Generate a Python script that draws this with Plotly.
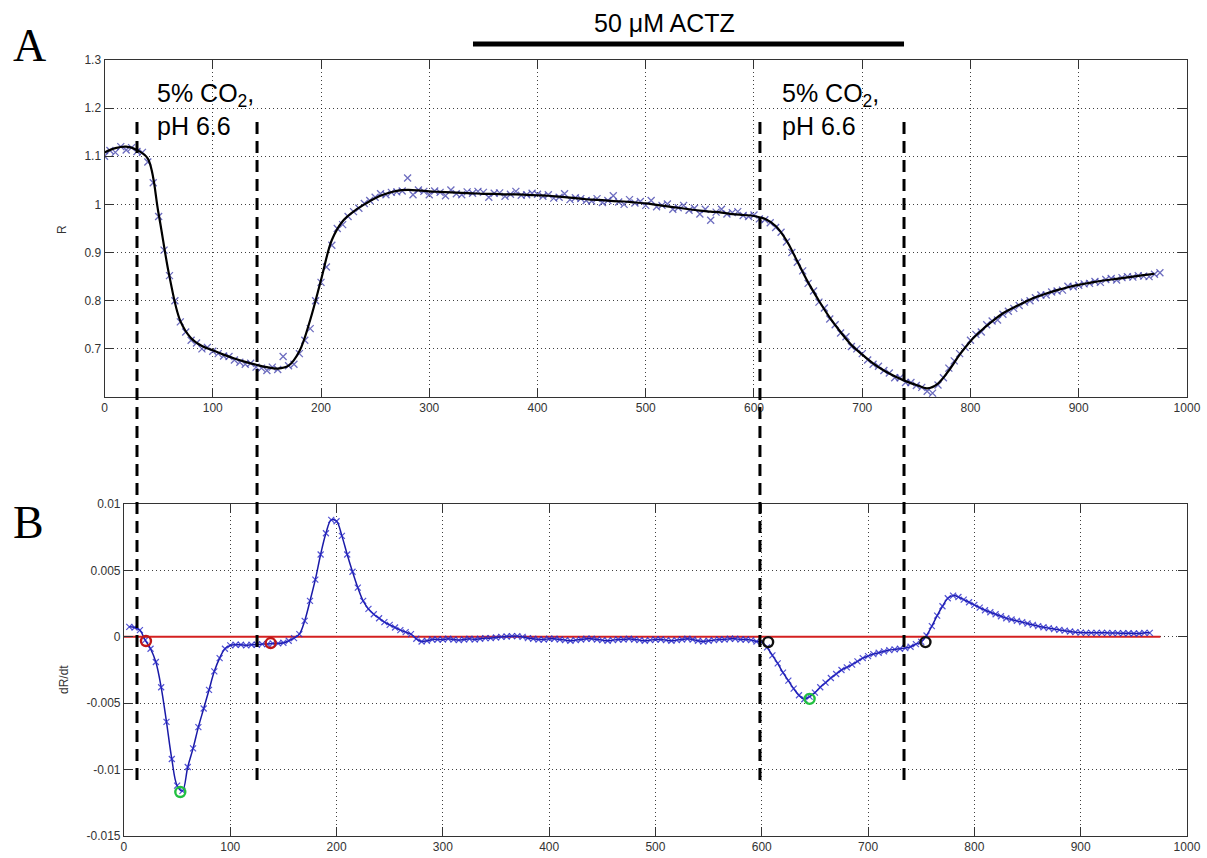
import plotly.graph_objects as go

# ---------------- data ----------------
# Panel A: fitted (smooth) ratio, every 10 s
fit_t = list(range(0, 980, 10))
fit_R = [1.108, 1.117, 1.120, 1.113, 1.095, 0.980, 0.850, 0.758, 0.722, 0.706,
         0.697, 0.688, 0.680, 0.673, 0.667, 0.662, 0.659, 0.665, 0.695, 0.760,
         0.843, 0.926, 0.965, 0.985, 1.000, 1.013, 1.022, 1.028, 1.030, 1.029,
         1.027, 1.026, 1.025, 1.024, 1.023, 1.022, 1.022, 1.021, 1.021, 1.020,
         1.019, 1.018, 1.016, 1.014, 1.012, 1.010, 1.009, 1.007, 1.006, 1.004,
         1.002, 0.999, 0.996, 0.993, 0.990, 0.987, 0.985, 0.983, 0.980, 0.978,
         0.976, 0.970, 0.955, 0.925, 0.882, 0.838, 0.800, 0.765, 0.735, 0.708,
         0.688, 0.670, 0.655, 0.643, 0.633, 0.625, 0.618, 0.628, 0.655, 0.688,
         0.716, 0.738, 0.757, 0.774, 0.786, 0.797, 0.807, 0.815, 0.822, 0.828,
         0.833, 0.837, 0.841, 0.844, 0.847, 0.850, 0.853, 0.856]

# Panel A: measured ratio, every 5 s
meas_t = list(range(0, 980, 5))
meas_R = [1.100, 1.112, 1.108, 1.120, 1.113, 1.118, 1.110, 1.108, 1.088, 1.045,
          0.975, 0.905, 0.852, 0.800, 0.756, 0.735, 0.718, 0.712, 0.700, 0.703,
          0.695, 0.690, 0.685, 0.684, 0.677, 0.672, 0.668, 0.670, 0.662, 0.660,
          0.655, 0.662, 0.657, 0.684, 0.665, 0.668, 0.690, 0.718, 0.742, 0.800,
          0.838, 0.870, 0.915, 0.950, 0.958, 0.975, 0.985, 0.992, 1.002, 1.008,
          1.015, 1.022, 1.020, 1.025, 1.026, 1.028, 1.055, 1.020, 1.030, 1.027,
          1.020, 1.028, 1.025, 1.018, 1.030, 1.022, 1.020, 1.026, 1.023, 1.027,
          1.025, 1.015, 1.023, 1.024, 1.017, 1.021, 1.027, 1.019, 1.020, 1.023,
          1.021, 1.017, 1.020, 1.013, 1.015, 1.022, 1.010, 1.014, 1.012, 1.008,
          1.007, 1.012, 1.004, 1.008, 1.018, 1.005, 1.000, 1.010, 1.003, 1.006,
          0.998, 1.008, 0.995, 0.998, 1.001, 0.990, 0.993, 0.998, 0.988, 0.992,
          0.980, 0.990, 0.967, 0.984, 0.990, 0.980, 0.983, 0.985, 0.977, 0.975,
          0.978, 0.970, 0.968, 0.962, 0.952, 0.942, 0.922, 0.900, 0.880, 0.862,
          0.836, 0.820, 0.797, 0.785, 0.762, 0.750, 0.733, 0.725, 0.705, 0.700,
          0.690, 0.677, 0.668, 0.664, 0.655, 0.650, 0.640, 0.640, 0.630, 0.630,
          0.624, 0.620, 0.612, 0.608, 0.625, 0.640, 0.660, 0.675, 0.690, 0.703,
          0.718, 0.730, 0.735, 0.750, 0.758, 0.760, 0.772, 0.778, 0.784, 0.790,
          0.797, 0.800, 0.806, 0.812, 0.812, 0.818, 0.820, 0.822, 0.830, 0.829,
          0.832, 0.835, 0.836, 0.840, 0.838, 0.844, 0.846, 0.843, 0.848, 0.850,
          0.849, 0.852, 0.851, 0.850, 0.855, 0.858]

# Panel B: derivative dR/dt (units of 1e-3 per s), every 5 s
deriv_t = list(range(5, 975, 5))
deriv_v_milli = [
    0.75, 0.70, 0.50, -0.25, -0.90, -1.90, -3.80, -6.40, -9.20, -11.20,
    -11.60, -9.80, -8.40, -6.80, -5.40, -4.00, -2.60, -1.60, -0.90, -0.65,
    -0.60, -0.60, -0.65, -0.60, -0.60, -0.55, -0.55, -0.50, -0.50, -0.45,
    -0.30, -0.10, 0.20, 1.20, 2.70, 4.30, 6.20, 7.80, 8.80, 8.70,
    7.60, 6.20, 4.90, 3.70, 2.70, 2.10, 1.70, 1.40, 1.10, 0.90,
    0.70, 0.50, 0.35, 0.20, -0.15, -0.35, -0.30, -0.20, -0.20, -0.20,
    -0.15, -0.20, -0.25, -0.20, -0.15, -0.20, -0.15, -0.10, -0.10, -0.05,
    0.00, 0.02, 0.05, 0.05, 0.00, -0.10, -0.15, -0.20, -0.20, -0.15,
    -0.15, -0.20, -0.25, -0.30, -0.25, -0.20, -0.15, -0.15, -0.20, -0.25,
    -0.30, -0.25, -0.20, -0.20, -0.15, -0.20, -0.25, -0.30, -0.25, -0.20,
    -0.20, -0.25, -0.30, -0.25, -0.20, -0.15, -0.20, -0.30, -0.35, -0.30,
    -0.25, -0.20, -0.20, -0.15, -0.15, -0.20, -0.20, -0.25, -0.35, -0.40,
    -0.80, -1.40, -2.00, -2.70, -3.30, -3.90, -4.40, -4.70, -4.50, -4.20,
    -3.80, -3.45, -3.10, -2.80, -2.50, -2.30, -2.10, -1.85, -1.60, -1.45,
    -1.30, -1.20, -1.10, -1.00, -0.95, -0.90, -0.85, -0.75, -0.55, -0.38,
    0.10, 0.80, 1.60, 2.30, 2.90, 3.10, 3.00, 2.80, 2.60, 2.40,
    2.20, 2.00, 1.85, 1.70, 1.55, 1.40, 1.30, 1.20, 1.10, 1.00,
    0.90, 0.80, 0.72, 0.65, 0.58, 0.52, 0.46, 0.40, 0.35, 0.32,
    0.30, 0.30, 0.30, 0.30, 0.30, 0.28, 0.28, 0.27, 0.27, 0.25,
    0.25, 0.30, 0.30]
deriv_v = [v / 1000.0 for v in deriv_v_milli]

# Panel B: marked points
red_t = [20.7, 138]
red_v = [-0.00032, -0.00047]
green_t = [53, 645]
green_v = [-0.01169, -0.00467]
black_t = [606, 754]
black_v = [-0.00040, -0.00040]
zero_t = [0, 975]
zero_v = [0, 0]

# event times (panel A time axis)
event_times = [30.0, 140.9, 605.5, 738.6]
actz_span = [340.4, 738.6]

# ticks
topx_ticks = list(range(0, 1001, 100))
topy_ticks = [0.7, 0.8, 0.9, 1.0, 1.1, 1.2, 1.3]
topy_labels = ["0.7", "0.8", "0.9", "1", "1.1", "1.2", "1.3"]
boty_ticks = [-0.015, -0.01, -0.005, 0, 0.005, 0.01]
boty_labels = ["-0.015", "-0.01", "-0.005", "0", "0.005", "0.01"]

# ---------------- figure ----------------
fig = go.Figure()

fig.add_trace(go.Scatter(x=meas_t, y=meas_R, mode="markers", xaxis="x", yaxis="y",
                         marker=dict(symbol="x-thin", size=7,
                                     line=dict(width=1.3, color="rgba(60,60,170,0.75)")),
                         showlegend=False))
fig.add_trace(go.Scatter(x=fit_t, y=fit_R, mode="lines", xaxis="x", yaxis="y",
                         line=dict(color="black", width=2.2, shape="spline"),
                         showlegend=False))

fig.add_trace(go.Scatter(x=zero_t, y=zero_v, mode="lines", xaxis="x2", yaxis="y2",
                         line=dict(color="#d42020", width=2), showlegend=False))
fig.add_trace(go.Scatter(x=deriv_t, y=deriv_v, mode="lines+markers", xaxis="x2", yaxis="y2",
                         line=dict(color="#1a1aa8", width=1.5, shape="spline"),
                         marker=dict(symbol="x-thin", size=6,
                                     line=dict(width=1.2, color="rgba(40,40,200,0.8)")),
                         showlegend=False))
for tt, vv, col in [(red_t, red_v, "#c01818"), (green_t, green_v, "#22c040"),
                    (black_t, black_v, "#101010")]:
    fig.add_trace(go.Scatter(x=tt, y=vv, mode="markers", xaxis="x2", yaxis="y2",
                             marker=dict(symbol="circle-open", size=10, color=col,
                                         line=dict(width=2.4, color=col)),
                             showlegend=False))

font_tick = dict(family="Liberation Sans, Arial, sans-serif", size=12, color="#333")
axis_common = dict(showline=True, linecolor="#333", linewidth=1, mirror="ticks",
                   ticks="inside", ticklen=9, tickcolor="#333", tickfont=font_tick,
                   showgrid=True, gridcolor="rgba(0,0,0,0.75)", griddash="1px,3px",
                   gridwidth=1, zeroline=False, automargin=False)

fig.update_layout(
    template="none",
    width=1207, height=858, autosize=False,
    margin=dict(l=0, r=0, t=0, b=0, pad=0),
    paper_bgcolor="white", plot_bgcolor="white",
    xaxis=dict(domain=[0.0866, 0.9834], range=[0, 1000], tickvals=topx_ticks,
               anchor="y", **axis_common),
    yaxis=dict(domain=[0.5373, 0.9301], range=[0.6, 1.3], tickvals=topy_ticks,
               ticktext=topy_labels, anchor="x", **axis_common),
    xaxis2=dict(domain=[0.1027, 0.9834], range=[0, 1000], tickvals=topx_ticks,
                anchor="y2", **axis_common),
    yaxis2=dict(domain=[0.0256, 0.4126], range=[-0.015, 0.01], tickvals=boty_ticks,
                ticktext=boty_labels, anchor="x2", **axis_common),
)

# dashed event lines spanning both panels
for et in event_times:
    fig.add_shape(type="line", xref="x", yref="paper", x0=et, x1=et,
                  y0=0.0909, y1=0.8636,
                  line=dict(color="black", width=3, dash="12px,7px"))

# ACTZ bar
fig.add_shape(type="line", xref="x", yref="paper", x0=actz_span[0], x1=actz_span[1],
              y0=0.9487, y1=0.9487, line=dict(color="black", width=5))

big = dict(family="Liberation Sans, Arial, sans-serif", size=25, color="black")
fig.add_annotation(x=517, y=1 - 23 / 858, xref="x", yref="paper", text="50 \u03bcM ACTZ",
                   showarrow=False, font=big, xanchor="center", yanchor="middle")
for xx in [47, 624]:
    fig.add_annotation(x=xx, y=1 - 77 / 858, xref="x", yref="paper",
                       text="5% CO<sub>2</sub>,<br>pH 6.6", showarrow=False,
                       font=big, xanchor="left", yanchor="top", align="left")

serif = dict(family="Liberation Serif, Times New Roman, serif", size=46, color="black")
fig.add_annotation(x=29 / 1207, y=1 - 45 / 858, xref="paper", yref="paper", text="A",
                   showarrow=False, font=serif, xanchor="center", yanchor="middle")
fig.add_annotation(x=28 / 1207, y=1 - 522 / 858, xref="paper", yref="paper", text="B",
                   showarrow=False, font=serif, xanchor="center", yanchor="middle")

fig.add_annotation(x=62 / 1207, y=1 - 230 / 858, xref="paper", yref="paper", text="R",
                   showarrow=False, textangle=-90, font=font_tick,
                   xanchor="center", yanchor="middle")
fig.add_annotation(x=64 / 1207, y=1 - 680 / 858, xref="paper", yref="paper", text="dR/dt",
                   showarrow=False, textangle=-90, font=font_tick,
                   xanchor="center", yanchor="middle")

fig.write_html("out.html")
